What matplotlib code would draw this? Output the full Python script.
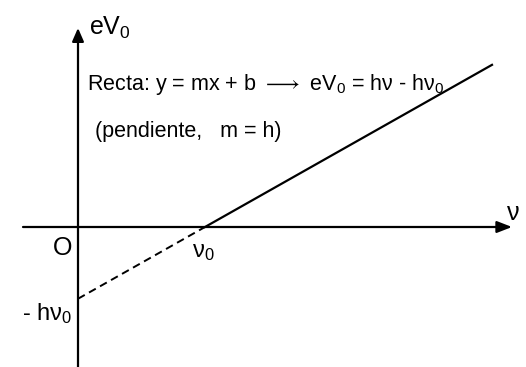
import matplotlib
matplotlib.use("Agg")
import numpy as np
import matplotlib.pyplot as plt

plt.rcParams['font.family'] = ['Liberation Sans', 'DejaVu Sans']
plt.rcParams['mathtext.default'] = 'regular'
plt.rcParams['mathtext.fontset'] = 'dejavusans'

# recta eV0 = h*nu - h*nu0 (unidades arbitrarias del dibujo)
nu0 = 127.0
h = 0.565
nu_ini = 0.0
nu_fin = 414.0

fig = plt.figure(figsize=(5.26, 3.67), dpi=100)
ax = fig.add_axes([0, 0, 1, 1])
ax.set_xlim(-78, 448)
ax.set_ylim(-140, 227)
ax.axis('off')

# ejes con flechas
ax.annotate('', xy=(434, 0), xytext=(-55, 0),
            arrowprops=dict(arrowstyle='-|>,head_length=0.9,head_width=0.35',
                            color='black', lw=1.6, shrinkA=0, shrinkB=0))
ax.annotate('', xy=(0, 199), xytext=(0, -142),
            arrowprops=dict(arrowstyle='-|>,head_length=0.8,head_width=0.35',
                            color='black', lw=1.6, shrinkA=0, shrinkB=0))

# tramo punteado (extrapolacion) y tramo real
x_dash = np.array([nu_ini, nu0])
x_sol = np.array([nu0, nu_fin])
ax.plot(x_dash, h * x_dash - h * nu0, color='black', lw=1.4, ls=(0, (4, 2.5)))
ax.plot(x_sol, h * x_sol - h * nu0, color='black', lw=1.6)

ax.text(11, 192, 'eV$_0$', fontsize=18, ha='left', va='baseline')
ax.text(9, 137, 'Recta: y = mx + b $\\longrightarrow$ eV$_0$ = h\u03bd - h\u03bd$_0$',
        fontsize=15.5, ha='left', va='baseline')
ax.text(17, 90, '(pendiente,   m = h)', fontsize=15.5,
        ha='left', va='baseline')
ax.text(-6, -28, 'O', fontsize=18, ha='right', va='baseline')
ax.text(nu0 - 2, -30, '\u03bd$_0$', fontsize=17, ha='center', va='baseline')
ax.text(-6, -93, '- h\u03bd$_0$', fontsize=17, ha='right', va='baseline')
ax.text(429, 7, '\u03bd', fontsize=18, ha='left', va='baseline')

fig.savefig('out.png', dpi=100, facecolor='white')
